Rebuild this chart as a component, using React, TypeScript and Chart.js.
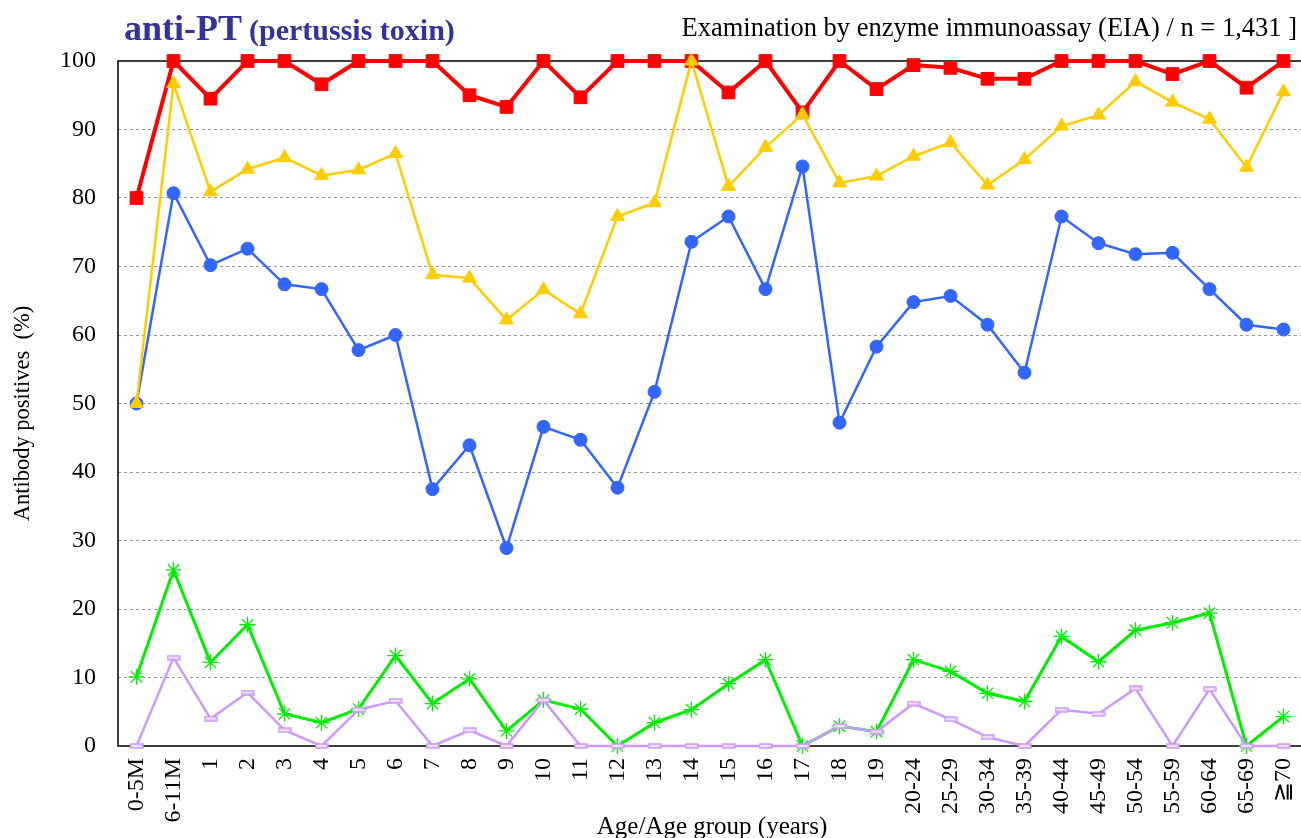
import { useEffect, useRef } from 'react';
import { Chart, registerables } from 'chart.js';

Chart.register(...registerables);

const categories = [
  '0-5M', '6-11M', '1', '2', '3', '4', '5', '6', '7', '8', '9', '10', '11', '12', '13', '14', '15', '16', '17', '18', '19',
  '20-24', '25-29', '30-34', '35-39', '40-44', '45-49', '50-54', '55-59', '60-64', '65-69', '≧70',
];

const seriesRed = [80, 100, 94.5, 100, 100, 96.6, 100, 100, 100, 95.0, 93.3, 100, 94.7, 100, 100, 100, 95.4, 100, 92.5, 100, 95.9, 99.4, 99.0, 97.4, 97.4, 100, 100, 100, 98.1, 100, 96.1, 100];
const seriesYellow = [50, 96.7, 80.9, 84.2, 85.9, 83.3, 84.1, 86.5, 68.8, 68.3, 62.2, 66.6, 63.1, 77.3, 79.3, 100, 81.7, 87.4, 92.2, 82.2, 83.2, 86.1, 88.1, 81.9, 85.6, 90.5, 92.1, 97.0, 94.0, 91.5, 84.5, 95.5];
const seriesBlue = [50, 80.7, 70.2, 72.6, 67.4, 66.7, 57.8, 60, 37.5, 43.9, 28.9, 46.6, 44.7, 37.7, 51.7, 73.6, 77.3, 66.7, 84.6, 47.2, 58.3, 64.8, 65.7, 61.5, 54.5, 77.3, 73.4, 71.8, 72.0, 66.7, 61.5, 60.8];
const seriesGreen = [10.1, 25.7, 12.2, 17.7, 4.7, 3.4, 5.4, 13.2, 6.2, 9.8, 2.2, 6.7, 5.4, 0, 3.4, 5.3, 9.1, 12.6, 0, 2.9, 2.1, 12.6, 10.9, 7.7, 6.5, 16.0, 12.3, 16.9, 18.0, 19.4, 0, 4.3];
const seriesPurple = [0, 12.9, 4.0, 7.8, 2.3, 0, 5.3, 6.6, 0, 2.3, 0, 6.7, 0, 0, 0, 0, 0, 0, 0, 2.9, 2.1, 6.2, 3.9, 1.3, 0, 5.3, 4.7, 8.4, 0, 8.3, 0, 0];

const yTicks = [0, 10, 20, 30, 40, 50, 60, 70, 80, 90, 100];

const titleMain = 'anti-PT';
const titleSub = '(pertussis toxin)';
const titleRight = 'Examination by enzyme immunoassay (EIA) / n = 1,431 ]';
const yTitle = 'Antibody positives  (%)';
const xTitle = 'Age/Age group (years)';

const SERIF = '"Liberation Serif", "DejaVu Serif", serif';

function makeFlatMarker(): HTMLCanvasElement {
  const c = document.createElement('canvas');
  c.width = 14;
  c.height = 6;
  const g = c.getContext('2d');
  if (g) {
    g.fillStyle = '#efe0ff';
    g.strokeStyle = '#c799f7';
    g.lineWidth = 1.4;
    g.beginPath();
    g.rect(1, 1, 12, 4);
    g.fill();
    g.stroke();
  }
  return c;
}

const framePlugin = {
  id: 'frameAndTexts',
  beforeDatasetsDraw(chart: any) {
    const { ctx, chartArea } = chart;
    const { left, top, right, bottom } = chartArea;
    ctx.save();
    ctx.strokeStyle = '#000';
    ctx.lineWidth = 1.5;
    ctx.beginPath();
    ctx.moveTo(right + 2, top);
    ctx.lineTo(left, top);
    ctx.lineTo(left, bottom);
    ctx.lineTo(right + 2, bottom);
    ctx.stroke();
    ctx.restore();
  },
  afterDraw(chart: any) {
    const { ctx, chartArea } = chart;
    ctx.save();
    // main title
    ctx.fillStyle = '#333399';
    ctx.textBaseline = 'alphabetic';
    ctx.textAlign = 'left';
    ctx.font = `bold 36px ${SERIF}`;
    ctx.fillText(titleMain, 124, 40);
    const w = ctx.measureText(titleMain).width;
    ctx.font = `bold 30px ${SERIF}`;
    ctx.fillText(titleSub, 124 + w + 7, 40);
    // right title
    ctx.fillStyle = '#000';
    ctx.font = `26.5px ${SERIF}`;
    ctx.textAlign = 'right';
    ctx.fillText(titleRight, 1297, 36);
    // x title
    ctx.textAlign = 'center';
    ctx.font = `25px ${SERIF}`;
    ctx.fillText(xTitle, 712, 834);
    // y title
    ctx.translate(23, (chartArea.top + chartArea.bottom) / 2 + 10);
    ctx.rotate(-Math.PI / 2);
    ctx.textBaseline = 'middle';
    ctx.font = `22.5px ${SERIF}`;
    ctx.fillText(yTitle, 0, 0);
    ctx.restore();
  },
};

export default function App() {
  const canvasRef = useRef<HTMLCanvasElement | null>(null);

  useEffect(() => {
    document.documentElement.style.overflow = 'hidden';
    document.body.style.overflow = 'hidden';
    if (!canvasRef.current) return;
    const flat = makeFlatMarker();
    const common = { clip: false as any, tension: 0, fill: false };
    const chart = new Chart(canvasRef.current, {
      type: 'line',
      data: {
        labels: categories,
        datasets: [
          {
            ...common,
            label: 'yellow',
            data: seriesYellow,
            borderColor: '#ffcc00',
            backgroundColor: '#ffcc00',
            borderWidth: 2.5,
            pointStyle: 'triangle',
            pointRadius: 8,
            pointBorderWidth: 1,
            pointBorderColor: '#ffcc00',
            order: 1,
          },
          {
            ...common,
            label: 'red',
            data: seriesRed,
            borderColor: '#ff0000',
            backgroundColor: '#ff0000',
            borderWidth: 4,
            pointStyle: 'rect',
            pointRadius: 9,
            pointBorderWidth: 1,
            pointBorderColor: '#ff0000',
            order: 2,
          },
          {
            ...common,
            label: 'blue',
            data: seriesBlue,
            borderColor: '#3366ff',
            backgroundColor: '#3366ff',
            borderWidth: 2.5,
            pointStyle: 'circle',
            pointRadius: 6.5,
            pointBorderWidth: 1,
            pointBorderColor: '#3366ff',
            order: 3,
          },
          {
            ...common,
            label: 'purple',
            data: seriesPurple,
            borderColor: '#cc99ff',
            backgroundColor: '#cc99ff',
            borderWidth: 2.5,
            pointStyle: flat as any,
            pointRadius: 6,
            order: 4,
          },
          {
            ...common,
            label: 'green',
            data: seriesGreen,
            borderColor: '#00ee00',
            backgroundColor: '#00ee00',
            borderWidth: 3,
            pointStyle: 'star',
            pointRadius: 8,
            pointBorderWidth: 1.3,
            pointBorderColor: '#00ee00',
            order: 5,
          },
        ],
      },
      options: {
        animation: false,
        responsive: true,
        maintainAspectRatio: false,
        layout: { padding: { top: 61, left: 0, right: 0, bottom: 0 } },
        plugins: {
          legend: { display: false },
          title: { display: false },
          tooltip: { enabled: false },
        },
        scales: {
          x: {
            type: 'category',
            offset: true,
            grid: { display: false, drawTicks: false },
            border: { display: false },
            ticks: {
              autoSkip: false,
              maxRotation: 90,
              minRotation: 90,
              padding: 12,
              color: '#000',
              font: { family: SERIF, size: 24 },
            },
            afterFit: (s: any) => {
              s.height = 92;
              s.paddingLeft = 0;
              s.paddingRight = 0;
            },
          },
          y: {
            type: 'linear',
            min: 0,
            max: 100,
            afterBuildTicks: (s: any) => {
              s.ticks = yTicks.map((v) => ({ value: v }));
            },
            grid: {
              drawTicks: false,
              color: (c: any) =>
                c.tick && (c.tick.value === 0 || c.tick.value === 100) ? 'rgba(0,0,0,0)' : '#999999',
              lineWidth: 1,
            },
            border: { display: false, dash: [3, 3] },
            ticks: {
              padding: 22,
              color: '#000',
              font: { family: SERIF, size: 24 },
            },
            afterFit: (s: any) => {
              s.width = 118;
              s.paddingTop = 0;
              s.paddingBottom = 0;
            },
          },
        },
      },
      plugins: [framePlugin],
    });
    return () => {
      chart.destroy();
    };
  }, []);

  return (
    <div style={{ position: 'fixed', left: 0, top: 0, width: 1312, height: 838, background: '#fff' }}>
      <canvas ref={canvasRef} />
    </div>
  );
}
